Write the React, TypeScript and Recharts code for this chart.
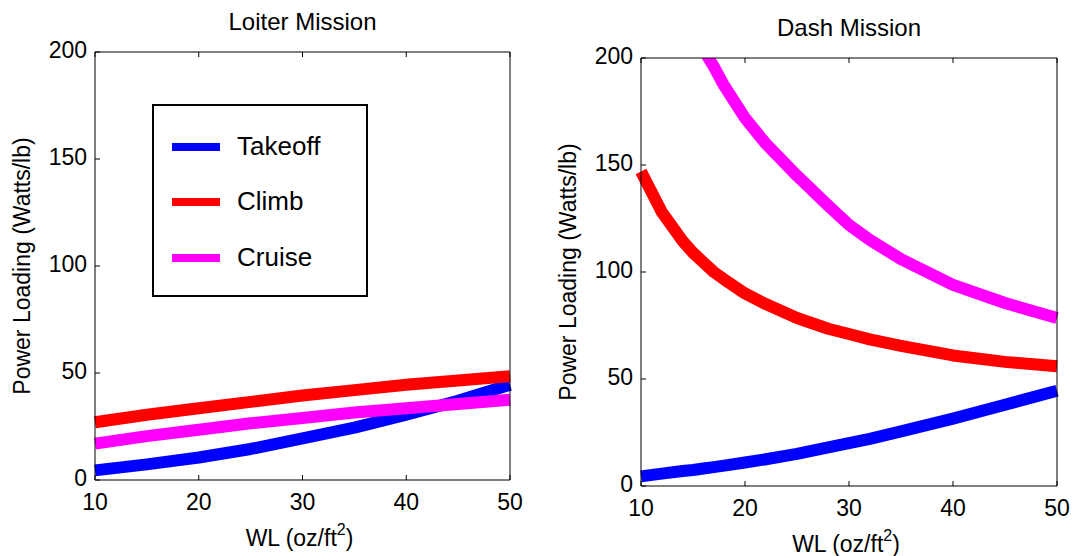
import React from "react";
import { LineChart, Line, XAxis, YAxis, Legend } from "recharts";

const FONT = "'Liberation Sans', Arial, Helvetica, sans-serif";

// ---------- data ----------
const WL_TICKS = [10, 20, 30, 40, 50];
const PL_TICKS = [0, 50, 100, 150, 200];

const LOITER_WL = [10, 15, 20, 25, 30, 35, 40, 45, 50];
const LOITER_TAKEOFF = [4.5, 7.3, 10.5, 14.5, 19.5, 24.5, 30.5, 37, 44.5];
const LOITER_CLIMB = [27, 30.5, 33.5, 36.5, 39.5, 42, 44.5, 46.5, 48.5];
const LOITER_CRUISE = [17, 20.5, 23.5, 26.5, 29, 31.5, 33.5, 35.5, 37.5];

const DASH_WL = [10, 12, 14, 15, 16, 17, 18, 20, 22, 25, 28, 30, 32, 35, 40, 45, 50];
const DASH_TAKEOFF = [4.5, 5.8, 7.0, 7.5, 8.2, 8.8, 9.5, 11, 12.5, 15, 18, 20, 22, 25.5, 31.5, 38, 44.5];
const DASH_CLIMB = [147, 128, 114.5, 109, 104.5, 100, 96.5, 90, 85, 78.5, 73.5, 71, 68.5, 65.5, 61, 58, 56];
const DASH_CRUISE = [null, null, null, 213, 204, 196, 187, 172, 160, 145, 131, 122, 115, 106, 94, 85.5, 78.5];

const SERIES = [
  { key: "takeoff", name: "Takeoff", color: "#0000ff" },
  { key: "climb", name: "Climb", color: "#ff0000" },
  { key: "cruise", name: "Cruise", color: "#ff00ff" },
];

const loiterData = LOITER_WL.map((wl, i) => ({
  wl,
  takeoff: LOITER_TAKEOFF[i],
  climb: LOITER_CLIMB[i],
  cruise: LOITER_CRUISE[i],
}));

const dashData = DASH_WL.map((wl, i) => ({
  wl,
  takeoff: DASH_TAKEOFF[i],
  climb: DASH_CLIMB[i],
  cruise: DASH_CRUISE[i],
}));

// ---------- ticks (inward, MATLAB style) ----------
const TICK_FONT = 23;
const TICK_LEN = 5;

const BottomTick = (props: any) => {
  const { x, y, payload } = props;
  return (
    <g>
      <line x1={x} y1={y} x2={x} y2={y - TICK_LEN} stroke="#000" />
      <text x={x} y={y + 30} textAnchor="middle" fontSize={TICK_FONT} fill="#000" fontFamily={FONT}>
        {payload.value}
      </text>
    </g>
  );
};
const TopTick = (props: any) => {
  const { x, y } = props;
  return <line x1={x} y1={y} x2={x} y2={y + TICK_LEN} stroke="#000" />;
};
const LeftTick = (props: any) => {
  const { x, y, payload } = props;
  return (
    <g>
      <line x1={x} y1={y} x2={x + TICK_LEN} y2={y} stroke="#000" />
      <text x={x - 8} y={y + 6} textAnchor="end" fontSize={TICK_FONT} fill="#000" fontFamily={FONT}>
        {payload.value}
      </text>
    </g>
  );
};
const RightTick = (props: any) => {
  const { x, y } = props;
  return <line x1={x} y1={y} x2={x - TICK_LEN} y2={y} stroke="#000" />;
};

const LegendBox = (props: any) => {
  const payload = [...(props.payload || [])].sort(
    (a: any, b: any) =>
      SERIES.findIndex((s) => s.name === a.value) - SERIES.findIndex((s) => s.name === b.value)
  );
  return (
    <div
      style={{
        position: "relative",
        width: 216,
        height: 193,
        boxSizing: "border-box",
        border: "2px solid #000",
        background: "#fff",
        fontFamily: FONT,
      }}
    >
      {payload.map((p: any, i: number) => (
        <div key={i} style={{ position: "absolute", left: 0, top: 41 + i * 55.3, height: 0 }}>
          <div
            style={{
              position: "absolute",
              left: 18,
              top: -4,
              width: 48,
              height: 8,
              background: p.color,
            }}
          />
          <div
            style={{
              position: "absolute",
              left: 83,
              top: -16,
              fontSize: 26,
              lineHeight: "30px",
              color: "#000",
              whiteSpace: "nowrap",
            }}
          >
            {p.value}
          </div>
        </div>
      ))}
    </div>
  );
};

const Panel = ({ data, margin, width, withLegend, clip }: any) => (
  <LineChart width={width} height={556} data={data} margin={margin}>
    <XAxis
      xAxisId="b"
      dataKey="wl"
      type="number"
      domain={[10, 50]}
      ticks={WL_TICKS}
      interval={0}
      height={1}
      tickSize={0}
      tickMargin={0}
      tickLine={false}
      axisLine={{ stroke: "#000" }}
      tick={<BottomTick />}
    />
    <XAxis
      xAxisId="t"
      orientation="top"
      dataKey="wl"
      type="number"
      domain={[10, 50]}
      ticks={WL_TICKS}
      interval={0}
      height={1}
      tickSize={0}
      tickMargin={0}
      tickLine={false}
      axisLine={{ stroke: "#000" }}
      tick={<TopTick />}
    />
    <YAxis
      yAxisId="l"
      type="number"
      domain={[0, 200]}
      ticks={PL_TICKS}
      interval={0}
      width={1}
      tickSize={0}
      tickMargin={0}
      tickLine={false}
      allowDataOverflow={clip}
      axisLine={{ stroke: "#000" }}
      tick={<LeftTick />}
    />
    <YAxis
      yAxisId="r"
      orientation="right"
      type="number"
      domain={[0, 200]}
      ticks={PL_TICKS}
      interval={0}
      width={1}
      tickSize={0}
      tickMargin={0}
      tickLine={false}
      axisLine={{ stroke: "#000" }}
      tick={<RightTick />}
    />
    {SERIES.map((s) => (
      <Line
        key={s.key}
        xAxisId="b"
        yAxisId="l"
        dataKey={s.key}
        name={s.name}
        stroke={s.color}
        strokeWidth={12}
        strokeLinecap="butt"
        strokeLinejoin="round"
        dot={false}
        activeDot={false}
        connectNulls={false}
        type="linear"
        isAnimationActive={false}
      />
    ))}
    {withLegend && (
      <Legend
        layout="horizontal"
        verticalAlign="middle"
        align="center"
        content={<LegendBox />}
        wrapperStyle={{ left: 152, top: 104, width: 216, height: 193 }}
      />
    )}
  </LineChart>
);

const Labels = ({ cx, top, bottom, left, title }: any) => {
  const cy = (top + bottom) / 2;
  return (
    <g fontFamily={FONT} fill="#000">
      <text x={cx} y={top - 22} textAnchor="middle" fontSize={24}>
        {title}
      </text>
      <text x={cx - 3} y={bottom + 66} textAnchor="middle" fontSize={23}>
        <tspan>WL (oz/ft</tspan>
        <tspan dy={-11} fontSize={16}>2</tspan>
        <tspan dy={11}>)</tspan>
      </text>
      <text
        transform={`translate(${left - 65},${cy}) rotate(-90)`}
        textAnchor="middle"
        fontSize={23}
      >
        Power Loading (Watts/lb)
      </text>
    </g>
  );
};

export default function App() {
  return (
    <div style={{ position: "absolute", left: 0, top: 0, width: 1073, height: 556, background: "#fff" }}>
      <div style={{ position: "absolute", left: 0, top: 0, width: 540, height: 556 }}>
        <Panel
          data={loiterData}
          width={540}
          margin={{ top: 51, left: 94, right: 29, bottom: 75 }}
          withLegend
          clip={false}
        />
      </div>
      <div style={{ position: "absolute", left: 540, top: 0, width: 533, height: 556 }}>
        <Panel
          data={dashData}
          width={533}
          margin={{ top: 57, left: 100, right: 15, bottom: 69 }}
          withLegend={false}
          clip={true}
        />
      </div>
      <svg
        width={1073}
        height={556}
        style={{ position: "absolute", left: 0, top: 0, pointerEvents: "none" }}
      >
        <Labels cx={302.5} top={52} bottom={480} left={95} title="Loiter Mission" />
        <Labels cx={849} top={58} bottom={486} left={641} title="Dash Mission" />
      </svg>
    </div>
  );
}
